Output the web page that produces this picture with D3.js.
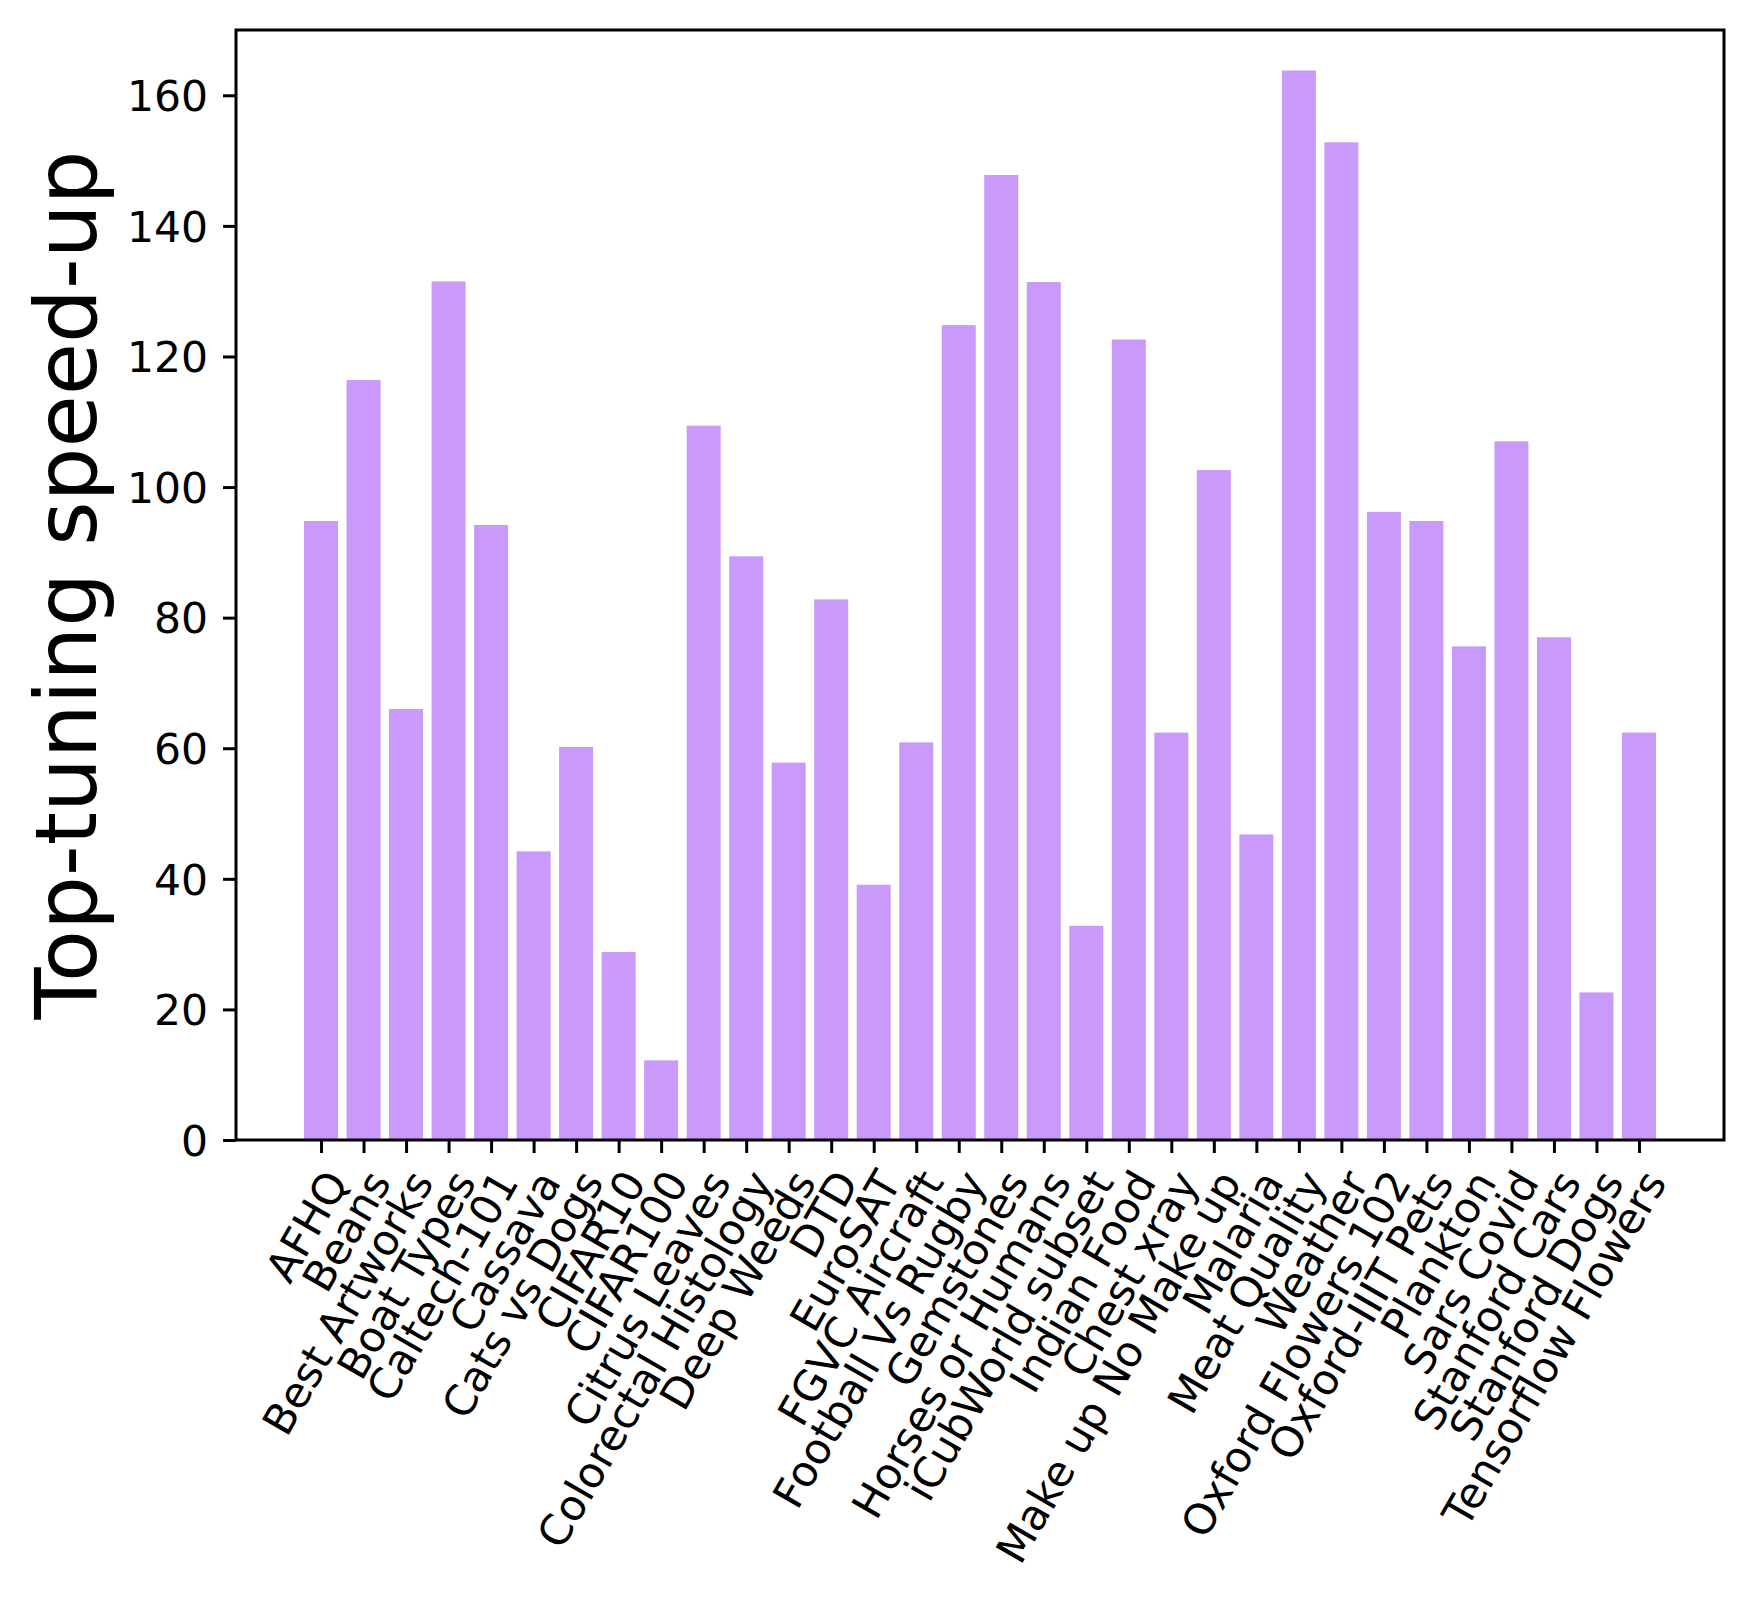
<!DOCTYPE html>
<html>
<head>
<meta charset="utf-8">
<script src="https://cdn.jsdelivr.net/npm/d3@7"></script>
<style>
html, body { margin: 0; padding: 0; background: #fff; }
svg { display: block; }
text { font-family: "DejaVu Sans", sans-serif; fill: #000; }
</style>
</head>
<body>
<svg id="chart" width="1754" height="1597"></svg>
<script>
const categories = ["AFHQ", "Beans", "Best Artworks", "Boat Types", "Caltech-101", "Cassava", "Cats vs Dogs", "CIFAR10", "CIFAR100", "Citrus Leaves", "Colorectal Histology", "Deep Weeds", "DTD", "EuroSAT", "FGVC Aircraft", "Football Vs Rugby", "Gemstones", "Horses or Humans", "iCubWorld subset", "Indian Food", "Chest xray", "Make up No Make up", "Malaria", "Meat Quality", "Weather", "Oxford Flowers 102", "Oxford-IIIT Pets", "Plankton", "Sars Covid", "Stanford Cars", "Stanford Dogs", "Tensorflow Flowers"];
const speedup = [94.8, 116.4, 66.0, 131.5, 94.2, 44.2, 60.2, 28.8, 12.2, 109.4, 89.4, 57.8, 82.8, 39.1, 60.9, 124.8, 147.8, 131.4, 32.8, 122.6, 62.4, 102.6, 46.8, 163.8, 152.8, 96.2, 94.8, 75.6, 107.0, 77.0, 22.6, 62.4];
const yTicks = [0, 20, 40, 60, 80, 100, 120, 140, 160];
const yLabel = "Top-tuning speed-up";

const mLeft = 236, mRight = 1724, mTop = 30, mBottom = 1140;
const svg = d3.select("#chart");

const x = d3.scaleLinear().domain([-2, categories.length + 1]).range([mLeft, mRight]);
const y = d3.scaleLinear().domain([0, 170]).range([mBottom, mTop]);
const barW = (x(1) - x(0)) * 0.8;

// bars
svg.append("g").selectAll("rect").data(speedup).join("rect")
  .attr("x", (d, i) => x(i) - barW / 2)
  .attr("y", d => y(d))
  .attr("width", barW)
  .attr("height", d => y(0) - y(d))
  .attr("fill", "#c99afa");

const tickLen = 13, tickW = 3, fs = 42.5;

// y axis
const yAxis = d3.axisLeft(y).tickValues(yTicks).tickSize(tickLen).tickPadding(15).tickFormat(d3.format("d"));
const gy = svg.append("g").attr("transform", `translate(${mLeft},0)`).call(yAxis);
gy.select(".domain").remove();
gy.selectAll(".tick line").attr("stroke", "#000").attr("stroke-width", tickW);
gy.selectAll(".tick text").attr("font-size", fs).attr("font-family", "DejaVu Sans").attr("fill", "#000").attr("dy", "0.36em");

// x axis
const xAxis = d3.axisBottom(x).tickValues(d3.range(categories.length)).tickSize(tickLen).tickFormat(i => categories[i]);
const gx = svg.append("g").attr("transform", `translate(0,${mBottom})`).call(xAxis);
gx.select(".domain").remove();
gx.selectAll(".tick line").attr("stroke", "#000").attr("stroke-width", tickW);
gx.selectAll(".tick text")
  .attr("font-size", fs).attr("font-family", "DejaVu Sans").attr("fill", "#000")
  .attr("text-anchor", "end")
  .attr("x", 0).attr("dy", null)
  .attr("y", 0.76 * fs)
  .attr("transform", `translate(0,${tickLen + 13}) rotate(-60)`);

// frame
svg.append("rect").attr("x", mLeft).attr("y", mTop).attr("width", mRight - mLeft).attr("height", mBottom - mTop)
  .attr("fill", "none").attr("stroke", "#000").attr("stroke-width", 3);

// y label
svg.append("text")
  .attr("transform", `translate(65,${(mTop + mBottom) / 2}) rotate(-90)`)
  .attr("text-anchor", "middle").attr("dy", "0.36em")
  .attr("font-size", 85)
  .text(yLabel);
</script>
</body>
</html>
